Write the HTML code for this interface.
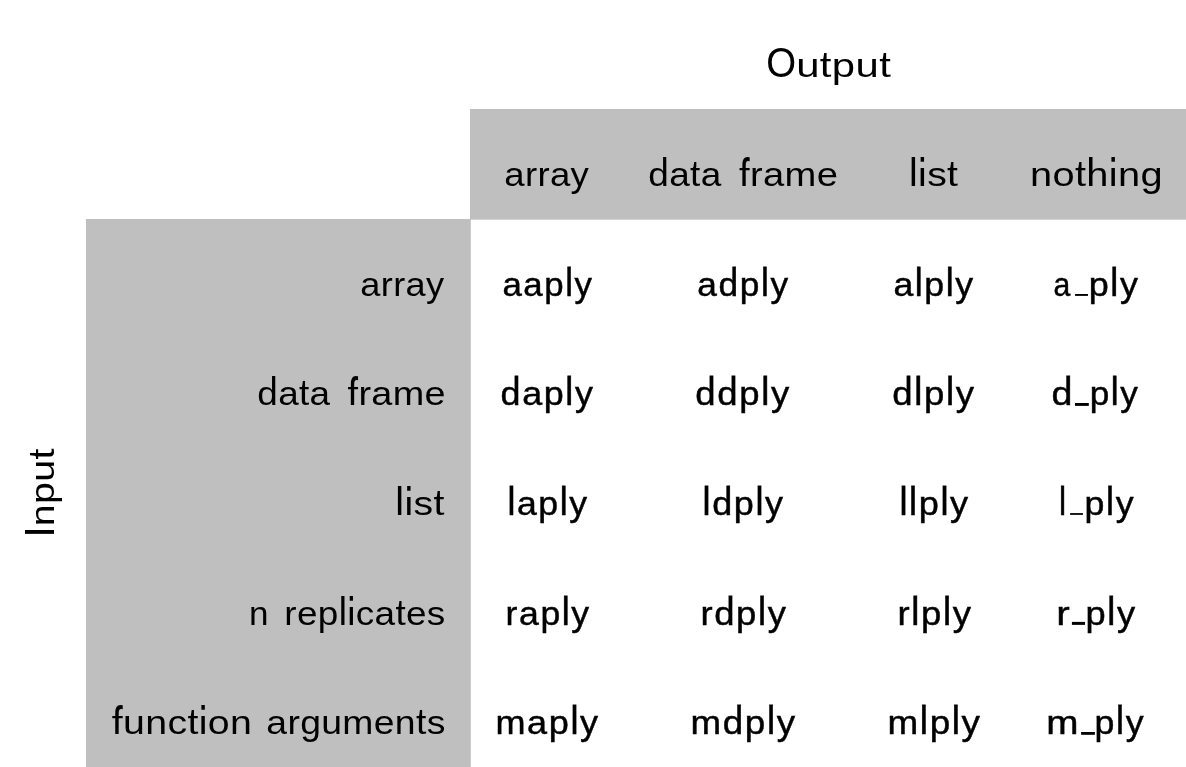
<!DOCTYPE html>
<html><head><meta charset="utf-8"><title>plyr function names</title><style>
html,body{margin:0;padding:0;background:#fff;}
body{width:1186px;height:767px;overflow:hidden;position:relative;}
svg{position:absolute;left:0;top:0;transform:translateZ(0);}
text{font-family:"Liberation Sans",sans-serif;font-size:33.5px;fill:#000;font-kerning:none;letter-spacing:0.3px;word-spacing:4px;}
.b{letter-spacing:1.5px;stroke:#000;stroke-width:0.45px;}
</style></head><body>
<svg width="1186" height="767" viewBox="0 0 1186 767" role="img" aria-label="plyr functions: Input (array, data frame, list, n replicates, function arguments) by Output (array, data frame, list, nothing)">
<desc>Output: array, data frame, list, nothing. Input: array (aaply adply alply a_ply), data frame (daply ddply dlply d_ply), list (laply ldply llply l_ply), n replicates (raply rdply rlply r_ply), function arguments (maply mdply mlply m_ply).</desc>
<defs>
<g id="L0"><text transform="translate(796.18 77.00) scale(1.2499 1)">utput</text></g>
<clipPath id="L0t"><rect x="0" y="18" width="1186" height="40"/></clipPath>
<clipPath id="L0m"><rect x="0" y="58" width="1186" height="20"/></clipPath>
<clipPath id="L0b"><rect x="0" y="78" width="1186" height="20"/></clipPath>
<g id="L1"><text transform="translate(504.25 186.00) scale(1.0916 1)">array</text><text transform="translate(648.35 186.00) scale(1.1037 1)">data</text><text transform="translate(739.06 186.00) scale(1.1394 1)">frame</text><text transform="translate(909.06 186.00) scale(1.1693 1)">list</text><text transform="translate(1029.96 186.00) scale(1.1880 1)">nothing</text></g>
<clipPath id="L1t"><rect x="0" y="127" width="1186" height="40"/></clipPath>
<clipPath id="L1m"><rect x="0" y="167" width="1186" height="20"/></clipPath>
<clipPath id="L1b"><rect x="0" y="187" width="1186" height="20"/></clipPath>
<g id="L2"><text transform="translate(360.36 296.00) scale(1.0798 1)">array</text><text transform="translate(502.42 296.00) scale(1.0402 1)" class="b">aaply</text><text transform="translate(697.35 296.00) scale(1.0538 1)" class="b">adply</text><text transform="translate(893.43 296.00) scale(1.0646 1)" class="b">alply</text><text transform="translate(1088.68 296.00) scale(1.0734 1)" class="b">ply</text><text transform="translate(1053.42 296.00) scale(0.9007 1)" class="b">a</text><rect x="1075.06" y="294.00" width="12.90" height="1.90"/></g>
<clipPath id="L2t"><rect x="0" y="237" width="1186" height="40"/></clipPath>
<clipPath id="L2m"><rect x="0" y="277" width="1186" height="20"/></clipPath>
<clipPath id="L2b"><rect x="0" y="297" width="1186" height="20"/></clipPath>
<g id="L3"><text transform="translate(257.35 405.00) scale(1.1006 1)">data</text><text transform="translate(347.56 405.00) scale(1.1300 1)">frame</text><text transform="translate(500.59 405.00) scale(1.0719 1)" class="b">daply</text><text transform="translate(695.37 405.00) scale(1.0897 1)" class="b">ddply</text><text transform="translate(892.32 405.00) scale(1.0909 1)" class="b">dlply</text><text transform="translate(1089.73 405.00) scale(1.0505 1)" class="b">ply</text><text transform="translate(1051.42 405.00) scale(1.1218 1)" class="b">d</text><rect x="1075.00" y="403.00" width="13.80" height="2.90"/></g>
<clipPath id="L3t"><rect x="0" y="346" width="1186" height="40"/></clipPath>
<clipPath id="L3m"><rect x="0" y="386" width="1186" height="20"/></clipPath>
<clipPath id="L3b"><rect x="0" y="406" width="1186" height="20"/></clipPath>
<g id="L4"><text transform="translate(395.36 515.00) scale(1.1693 1)">list</text><text transform="translate(507.40 515.00) scale(1.0630 1)" class="b">laply</text><text transform="translate(702.53 515.00) scale(1.0746 1)" class="b">ldply</text><text transform="translate(899.43 515.00) scale(1.0783 1)" class="b">llply</text><text transform="translate(1084.59 515.00) scale(1.0688 1)" class="b">ply</text><text transform="translate(1058.95 515.00) scale(0.9510 1)" class="b">l</text><rect x="1070.10" y="513.10" width="12.85" height="1.77"/></g>
<clipPath id="L4t"><rect x="0" y="456" width="1186" height="40"/></clipPath>
<clipPath id="L4m"><rect x="0" y="496" width="1186" height="20"/></clipPath>
<clipPath id="L4b"><rect x="0" y="516" width="1186" height="20"/></clipPath>
<g id="L5"><text transform="translate(249.07 625.00) scale(1.0470 1)">n</text><text transform="translate(284.35 625.00) scale(1.1021 1)">replicates</text><text transform="translate(505.59 625.00) scale(1.0628 1)" class="b">raply</text><text transform="translate(700.43 625.00) scale(1.0882 1)" class="b">rdply</text><text transform="translate(897.57 625.00) scale(1.0901 1)" class="b">rlply</text><text transform="translate(1085.56 625.00) scale(1.0826 1)" class="b">ply</text><text transform="translate(1056.16 625.00) scale(1.2084 1)" class="b">r</text><rect x="1071.90" y="621.90" width="13.10" height="2.97"/></g>
<clipPath id="L5t"><rect x="0" y="566" width="1186" height="40"/></clipPath>
<clipPath id="L5m"><rect x="0" y="606" width="1186" height="20"/></clipPath>
<clipPath id="L5b"><rect x="0" y="626" width="1186" height="20"/></clipPath>
<g id="L6"><text transform="translate(111.69 734.00) scale(1.1736 1)">function</text><text transform="translate(266.31 734.00) scale(1.1143 1)">arguments</text><text transform="translate(495.51 734.00) scale(1.0755 1)" class="b">maply</text><text transform="translate(690.53 734.00) scale(1.0963 1)" class="b">mdply</text><text transform="translate(887.48 734.00) scale(1.1000 1)" class="b">mlply</text><text transform="translate(1094.59 734.00) scale(1.0688 1)" class="b">ply</text><text transform="translate(1046.23 734.00) scale(1.1545 1)" class="b">m</text><rect x="1081.10" y="732.00" width="13.80" height="2.80"/></g>
<clipPath id="L6t"><rect x="0" y="675" width="1186" height="40"/></clipPath>
<clipPath id="L6m"><rect x="0" y="715" width="1186" height="20"/></clipPath>
<clipPath id="L6b"><rect x="0" y="735" width="1186" height="20"/></clipPath>
<g id="IN"><text transform="translate(54.00 523.70) rotate(-90) translate(-2.62 0) scale(1.1755 1)">nput</text></g>
<clipPath id="INt"><rect x="-5" y="0" width="40" height="767"/></clipPath>
<clipPath id="INm"><rect x="35" y="0" width="20" height="767"/></clipPath>
<clipPath id="INb"><rect x="55" y="0" width="20" height="767"/></clipPath>
</defs>
<rect x="470" y="109" width="716" height="110.69999999999999" fill="#bfbfbf"/>
<rect x="86" y="219" width="384.8" height="548" fill="#bfbfbf"/>
<use href="#L0" clip-path="url(#L0m)"/>
<g clip-path="url(#L0t)"><use href="#L0" transform="matrix(1 0 0 1.7064 0 -40.968)"/></g>
<g clip-path="url(#L0b)"><use href="#L0" transform="matrix(1 0 0 1.0921 0 -7.183)"/></g>
<use href="#L1" clip-path="url(#L1m)"/>
<g clip-path="url(#L1t)"><use href="#L1" transform="matrix(1 0 0 1.7064 0 -117.961)"/></g>
<g clip-path="url(#L1b)"><use href="#L1" transform="matrix(1 0 0 1.0921 0 -17.220)"/></g>
<use href="#L2" clip-path="url(#L2m)"/>
<g clip-path="url(#L2t)"><use href="#L2" transform="matrix(1 0 0 1.7064 0 -195.659)"/></g>
<g clip-path="url(#L2b)"><use href="#L2" transform="matrix(1 0 0 1.0921 0 -27.350)"/></g>
<use href="#L3" clip-path="url(#L3m)"/>
<g clip-path="url(#L3t)"><use href="#L3" transform="matrix(1 0 0 1.7064 0 -272.651)"/></g>
<g clip-path="url(#L3b)"><use href="#L3" transform="matrix(1 0 0 1.0921 0 -37.388)"/></g>
<use href="#L4" clip-path="url(#L4m)"/>
<g clip-path="url(#L4t)"><use href="#L4" transform="matrix(1 0 0 1.7064 0 -350.350)"/></g>
<g clip-path="url(#L4b)"><use href="#L4" transform="matrix(1 0 0 1.0921 0 -47.517)"/></g>
<use href="#L5" clip-path="url(#L5m)"/>
<g clip-path="url(#L5t)"><use href="#L5" transform="matrix(1 0 0 1.7064 0 -428.049)"/></g>
<g clip-path="url(#L5b)"><use href="#L5" transform="matrix(1 0 0 1.0921 0 -57.647)"/></g>
<use href="#L6" clip-path="url(#L6m)"/>
<g clip-path="url(#L6t)"><use href="#L6" transform="matrix(1 0 0 1.7064 0 -505.041)"/></g>
<g clip-path="url(#L6b)"><use href="#L6" transform="matrix(1 0 0 1.0921 0 -67.684)"/></g>
<use href="#IN" clip-path="url(#INm)"/>
<g clip-path="url(#INt)"><use href="#IN" transform="matrix(1.8797 0 0 1 -30.789 0)"/></g>
<g clip-path="url(#INb)"><use href="#IN" transform="matrix(1.0921 0 0 1 -5.065 0)"/></g>
<rect x="25.0" y="530.0" width="29.0" height="3.85"/>
<text transform="translate(766.18 76.58) scale(1.1457 1.2733)">O</text>
</svg>
</body></html>
